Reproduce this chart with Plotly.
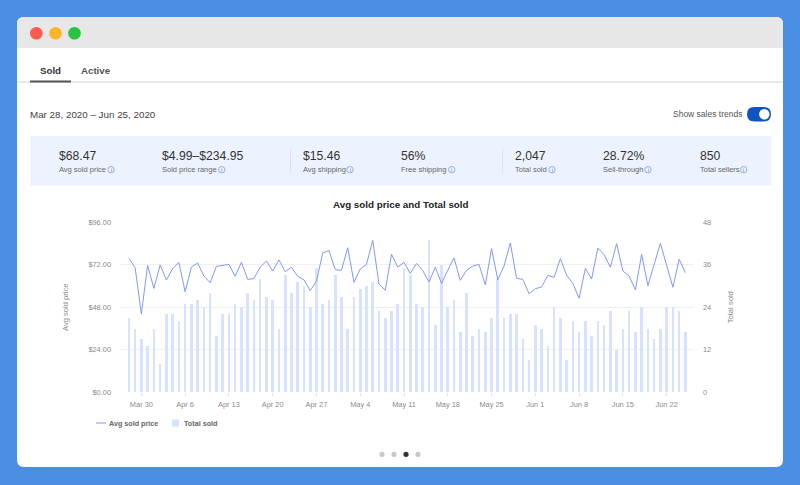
import pandas as pd
import plotly.graph_objects as go

dates = pd.date_range("2020-03-28", "2020-06-25", freq="D").strftime("%Y-%m-%d").tolist()
avg_sold_price = [
    75.5, 70.3, 44.1, 71.6, 58.6, 71.8, 63.3, 69.7, 73.3, 56.7,
    70.6, 72.9, 65.6, 61.8, 71.0, 71.6, 72.1, 65.4, 73.3, 63.7,
    64.1, 70.6, 74.0, 68.4, 74.6, 68.0, 70.5, 65.4, 63.5, 57.3,
    62.6, 78.5, 80.0, 69.1, 68.8, 81.5, 62.0, 69.5, 72.1, 85.7,
    61.0, 57.5, 77.8, 70.6, 73.3, 67.0, 72.7, 68.6, 62.2, 70.5,
    61.4, 68.8, 75.7, 63.1, 68.8, 71.2, 72.1, 60.5, 81.0, 63.5,
    71.2, 84.2, 64.3, 63.7, 55.6, 58.4, 59.4, 65.9, 64.8, 75.3,
    66.1, 61.4, 53.0, 69.9, 63.9, 81.3, 77.6, 70.5, 83.8, 68.4,
    65.6, 57.7, 77.8, 60.1, 71.8, 84.0, 71.6, 59.2, 75.0, 67.4,
]
total_sold = [
    21, 18, 15, 13, 18, 8, 22, 22, 20, 25,
    25, 26, 24, 28, 16, 22, 22, 25, 24, 28,
    26, 32, 27, 26, 18, 33, 28, 31, 30, 24,
    35, 25, 26, 33, 27, 18, 27, 29, 30, 31,
    23, 21, 23, 25, 35, 33, 25, 24, 43, 19,
    36, 24, 26, 17, 28, 16, 18, 17, 21, 32,
    21, 22, 22, 15, 9, 19, 18, 13, 24, 21,
    9, 20, 17, 20, 16, 20, 19, 23, 12, 18,
    23, 17, 24, 18, 15, 18, 24, 24, 23, 17,
]
tick_dates = ["2020-03-30", "2020-04-06", "2020-04-13", "2020-04-20", "2020-04-27",
              "2020-05-04", "2020-05-11", "2020-05-18", "2020-05-25", "2020-06-01",
              "2020-06-08", "2020-06-15", "2020-06-22"]
tick_labels = ["Mar 30", "Apr 6", "Apr 13", "Apr 20", "Apr 27", "May 4", "May 11",
               "May 18", "May 25", "Jun 1", "Jun 8", "Jun 15", "Jun 22"]
price_ticks = [0, 24, 48, 72, 96]
price_tick_labels = ["$0.00", "$24.00", "$48.00", "$72.00", "$96.00"]
sold_ticks = [0, 12, 24, 36, 48]
metric_values = ["$68.47", "$4.99–$234.95", "$15.46", "56%", "2,047", "28.72%", "850"]
metric_labels = ["Avg sold price", "Sold price range", "Avg shipping", "Free shipping",
                 "Total sold", "Sell-through", "Total sellers"]
metric_x = [59, 162, 302.5, 401.5, 515, 603, 699.5]
metric_icon_x = [111, 221.7, 350, 451.7, 552, 648, 743.7]

W, H = 800, 485
FONT = "Liberation Sans"
LINE = "#8298f2"
BAR = "#d6e2fe"


def px(x):
    return x / W


def py(y):
    return 1 - y / H


shapes = []
annots = []


def rect(x0, y0, x1, y1, fill):
    shapes.append(dict(type="rect", xref="paper", yref="paper", x0=px(x0), x1=px(x1),
                       y0=py(y1), y1=py(y0), fillcolor=fill, line_width=0, layer="below"))


def circle(cx, cy, r, fill, line=None, lw=0):
    shapes.append(dict(type="circle", xref="paper", yref="paper", x0=px(cx - r), x1=px(cx + r),
                       y0=py(cy + r), y1=py(cy - r), fillcolor=fill,
                       line=dict(color=line or fill, width=lw), layer="below"))


def rpath(x0, y0, x1, y1, rt, rb, fill):
    def P(x, y):
        return f"{px(x)} {py(y)}"
    d = (f"M {P(x0 + rt, y0)} L {P(x1 - rt, y0)} Q {P(x1, y0)} {P(x1, y0 + rt)} "
         f"L {P(x1, y1 - rb)} Q {P(x1, y1)} {P(x1 - rb, y1)} L {P(x0 + rb, y1)} "
         f"Q {P(x0, y1)} {P(x0, y1 - rb)} L {P(x0, y0 + rt)} Q {P(x0, y0)} {P(x0 + rt, y0)} Z")
    shapes.append(dict(type="path", xref="paper", yref="paper", path=d, fillcolor=fill,
                       line_width=0, layer="below"))


def text(x, y, s, size, color, anchor="left", bold=False):
    annots.append(dict(xref="paper", yref="paper", x=px(x), y=py(y), xanchor=anchor, yanchor="middle",
                       text=f"<b>{s}</b>" if bold else s, showarrow=False,
                       font=dict(family=FONT, size=size, color=color),
                       borderpad=0, borderwidth=0))


# window frame
rpath(17, 17, 783, 467, 7, 7, "#ffffff")
rpath(17, 17, 783, 48, 7, 0, "#e7e7e7")
circle(36.3, 33.3, 6.3, "#fd5a52")
circle(55.5, 33.3, 6.3, "#fdb62c")
circle(74.5, 33.3, 6.3, "#27c440")

# tabs
rect(17, 81, 783, 83, "#e9e9e9")
rect(30, 80.5, 71, 82.5, "#555555")
text(40, 70.5, "Sold", 9.7, "#333333", bold=True)
text(81, 70.5, "Active", 9.7, "#555555", bold=True)

# header row
text(30, 114.3, "Mar 28, 2020 – Jun 25, 2020", 9.8, "#444444")
text(742, 113.7, "Show sales trends", 8.5, "#555555", anchor="right")
rpath(747, 107, 771, 121.5, 7.2, 7.2, "#0f55c0")
circle(764.3, 114.3, 5.2, "#ffffff")

# metric panel
rect(30, 136, 771, 185.5, "#edf3fe")
rect(290.2, 148.5, 290.9, 173.5, "#d6d9de")
rect(502.4, 148.5, 503.1, 173.5, "#d6d9de")
for xv, val, lab, ix in zip(metric_x, metric_values, metric_labels, metric_icon_x):
    text(xv, 155.5, val, 12.2, "#333333")
    text(xv, 169, lab, 7.5, "#666666")
    circle(ix, 169.7, 3.2, "#edf3fe", line="#7d9ad8", lw=0.8)
    text(ix, 169.7, "i", 5, "#5b7cc8", anchor="center")

# chart title and manual compact legend
text(400.5, 204.5, "Avg sold price and Total sold", 9.8, "#222222", anchor="center", bold=True)
shapes.append(dict(type="line", xref="paper", yref="paper", x0=px(96), x1=px(106), y0=py(423), y1=py(423),
                   line=dict(color=LINE, width=1), layer="below"))
text(108.5, 423, "Avg sold price", 7.2, "#666666", bold=True)
rect(172, 419.5, 179, 426.5, BAR)
text(183.5, 423, "Total sold", 7.2, "#666666", bold=True)

# carousel dots
for cx, c in zip([382, 394, 406, 418], ["#c9c9c9", "#c9c9c9", "#333333", "#c9c9c9"]):
    circle(cx, 454.3, 2.6, c)

fig = go.Figure()
fig.add_trace(go.Bar(x=dates, y=total_sold, name="Total sold", yaxis="y", marker=dict(color=BAR, line_width=0),
                     width=0.42 * 86400000))
fig.add_trace(go.Scatter(x=dates, y=avg_sold_price, name="Avg sold price", yaxis="y2", mode="lines",
                         line=dict(color=LINE, width=1)))

axis_font = dict(family=FONT, size=7.4, color="#8a8a8a")
title_font = dict(family=FONT, size=7.6, color="#8a8a8a")
fig.update_layout(
    template="none", width=W, height=H, autosize=False, margin=dict(l=0, r=0, t=0, b=0, pad=0), showlegend=False,
    paper_bgcolor="#4a8fe3", plot_bgcolor="rgba(0,0,0,0)", font=dict(family=FONT),
    shapes=shapes, annotations=annots, bargap=0,
    xaxis=dict(type="date", domain=[120 / W, 694 / W], range=["2020-03-26 14:00", "2020-06-26 09:00"],
               automargin=False, tickvals=tick_dates, ticktext=tick_labels, showgrid=False, zeroline=False,
               ticks="outside", ticklen=3, tickcolor="#e0e0e0", tickfont=axis_font, showline=False,
               ticklabelstandoff=2),
    yaxis=dict(domain=[1 - 392.4 / H, 1 - 222 / H], range=[0, 48], tickvals=sold_ticks, side="right",
               automargin=False, showgrid=True, gridcolor="#f0f0f0", gridwidth=1, zeroline=False,
               tickfont=axis_font, ticks="", showline=False, ticklabelstandoff=8,
               title=dict(text="Total sold", font=title_font, standoff=17)),
    yaxis2=dict(overlaying="y", range=[0, 96], tickvals=price_ticks, ticktext=price_tick_labels, side="left",
                automargin=False, showgrid=False, zeroline=False, tickfont=axis_font, ticks="",
                showline=False, ticklabelstandoff=8,
                title=dict(text="Avg sold price", font=title_font, standoff=18)),
)
fig.write_html("out.html", config=dict(displayModeBar=False),
               post_script="document.body.style.margin='0';document.body.style.overflow='hidden';")
